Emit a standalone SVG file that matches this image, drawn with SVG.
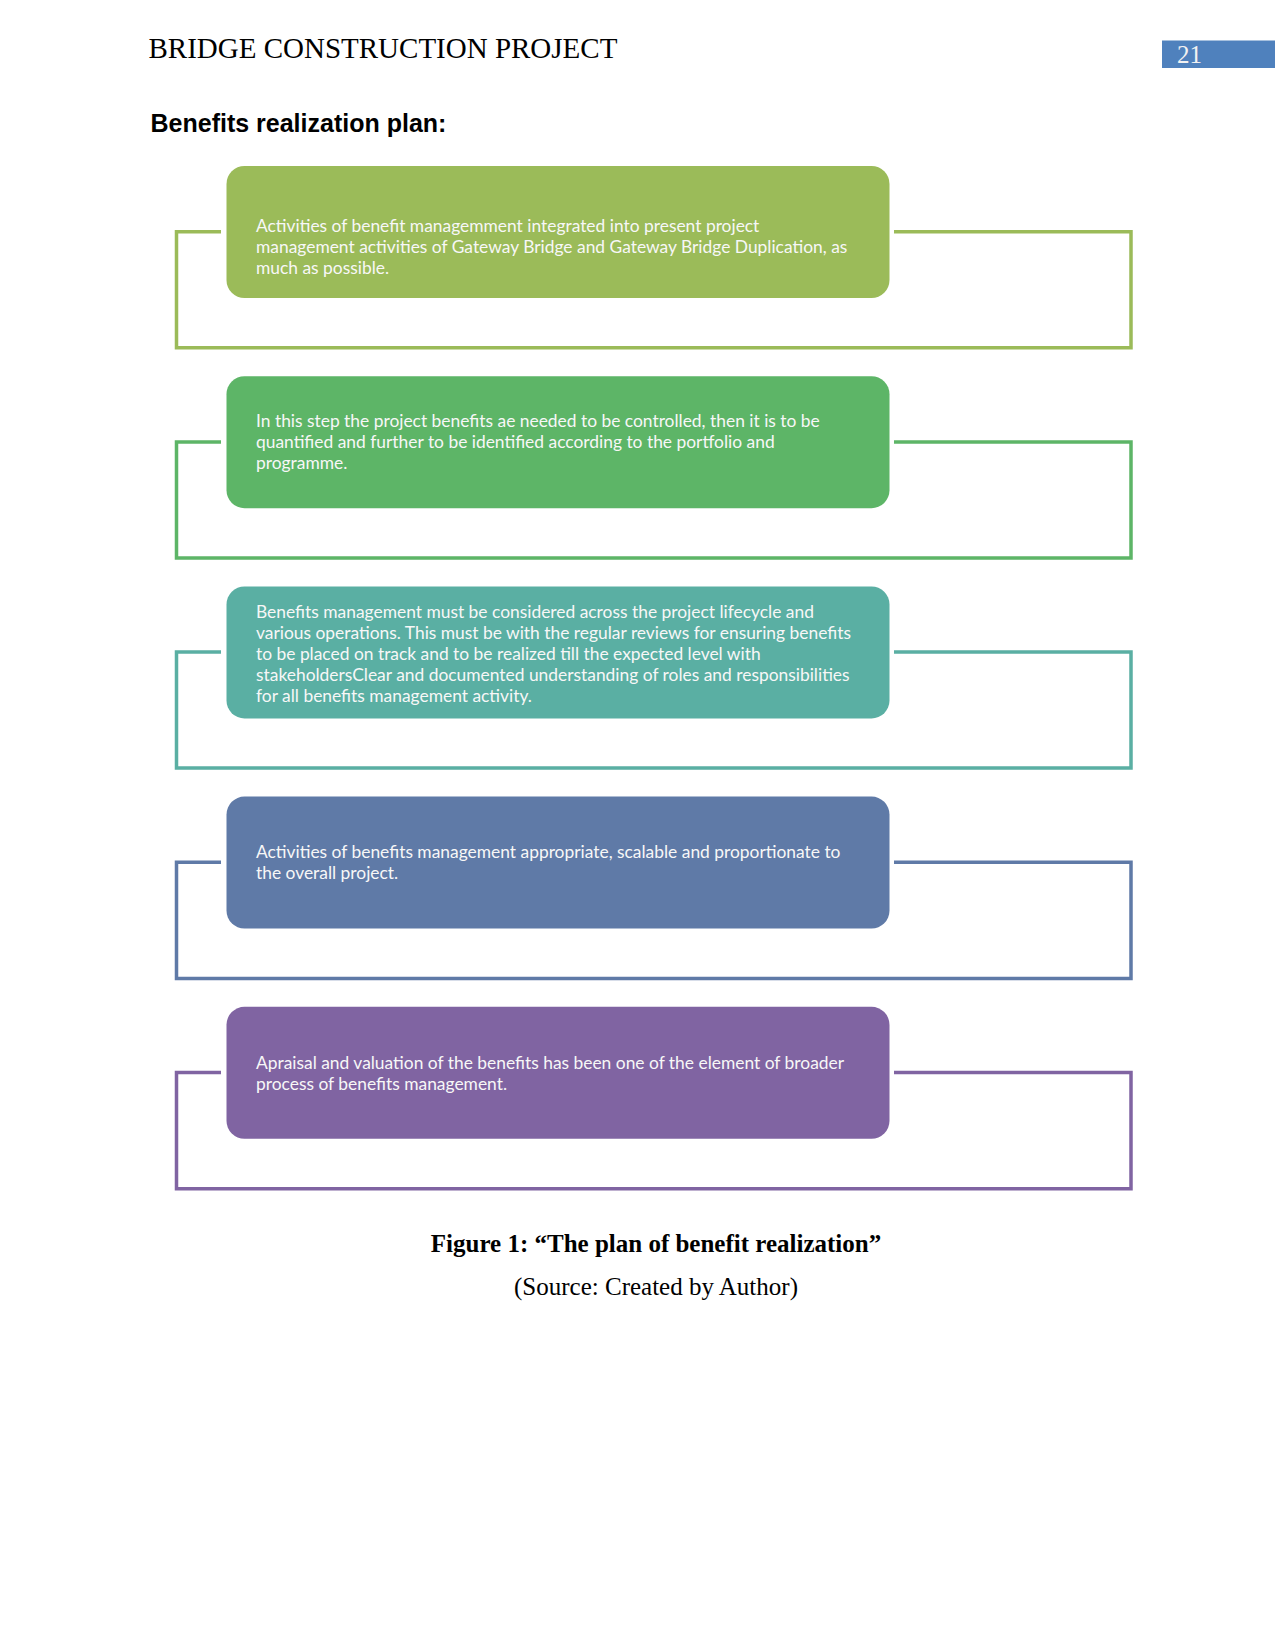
<svg xmlns="http://www.w3.org/2000/svg" width="1275" height="1651" viewBox="0 0 1275 1651">
<style>
.hdr{font-family:"Liberation Serif","Times New Roman",serif;font-size:29px;fill:#000}
.ttl{font-family:"Liberation Sans",Arial,sans-serif;font-size:25px;font-weight:bold;fill:#000}
.cap{font-family:"Liberation Serif","Times New Roman",serif;font-size:25px;fill:#000;text-anchor:middle}
.bt{font-family:Lato,"Carlito","Open Sans",sans-serif;font-size:17.4px;fill:#F7F7F7}
.br{fill:none;stroke-width:3.5;stroke-linejoin:miter}
</style>
<rect width="1275" height="1651" fill="#fff"/>
<g id="header">
<text class="hdr" x="148.5" y="57.5">BRIDGE CONSTRUCTION PROJECT</text>
<rect x="1162" y="40.5" width="113" height="27.5" fill="#4F81BD"/>
<text x="1177" y="63" font-family="Liberation Serif,Times New Roman,serif" font-size="25" fill="#F2F2F2">21</text>
</g>
<text class="ttl" x="150.5" y="131.7">Benefits realization plan:</text>
<g id="connectors">
<path class="br" stroke="#9BBB59" d="M221,231.7 H176.5 V347.7 H1131 V231.7 H894"/>
<path class="br" stroke="#5DB567" d="M221,441.9 H176.5 V557.9 H1131 V441.9 H894"/>
<path class="br" stroke="#5AAFA3" d="M221,652.1 H176.5 V768.1 H1131 V652.1 H894"/>
<path class="br" stroke="#5F7AA7" d="M221,862.3 H176.5 V978.5 H1131 V862.3 H894"/>
<path class="br" stroke="#8064A2" d="M221,1072.5 H176.5 V1188.7 H1131 V1072.5 H894"/>
</g>
<g id="node1">
<rect x="226.5" y="166" width="663" height="132" rx="18" fill="#9BBB59"/>
<text class="bt" x="256" y="232">Activities of benefit managemment integrated into present project</text>
<text class="bt" x="256" y="253">management activities of Gateway Bridge and Gateway Bridge Duplication, as</text>
<text class="bt" x="256" y="274">much as possible.</text>
</g>
<g id="node2">
<rect x="226.5" y="376.2" width="663" height="132" rx="18" fill="#5DB567"/>
<text class="bt" x="256" y="427">In this step the project benefits ae needed to be controlled, then it is to be</text>
<text class="bt" x="256" y="447.8">quantified and further to be identified according to the portfolio and</text>
<text class="bt" x="256" y="468.6">programme.</text>
</g>
<g id="node3">
<rect x="226.5" y="586.4" width="663" height="132" rx="18" fill="#5AAFA3"/>
<text class="bt" x="256" y="618.4">Benefits management must be considered across the project lifecycle and</text>
<text class="bt" x="256" y="639.2">various operations. This must be with the regular reviews for ensuring benefits</text>
<text class="bt" x="256" y="660">to be placed on track and to be realized till the expected level with</text>
<text class="bt" x="256" y="680.8">stakeholdersClear and documented understanding of roles and responsibilities</text>
<text class="bt" x="256" y="701.6">for all benefits management activity.</text>
</g>
<g id="node4">
<rect x="226.5" y="796.6" width="663" height="132" rx="18" fill="#5F7AA7"/>
<text class="bt" x="256" y="858.3">Activities of benefits management appropriate, scalable and proportionate to</text>
<text class="bt" x="256" y="879.3">the overall project.</text>
</g>
<g id="node5">
<rect x="226.5" y="1006.8" width="663" height="132" rx="18" fill="#8064A2"/>
<text class="bt" x="256" y="1068.5">Apraisal and valuation of the benefits has been one of the element of broader</text>
<text class="bt" x="256" y="1089.5">process of benefits management.</text>
</g>
<text class="cap" x="656" y="1251.7" font-weight="bold">Figure 1: “The plan of benefit realization”</text>
<text class="cap" x="656" y="1295">(Source: Created by Author)</text>
</svg>
